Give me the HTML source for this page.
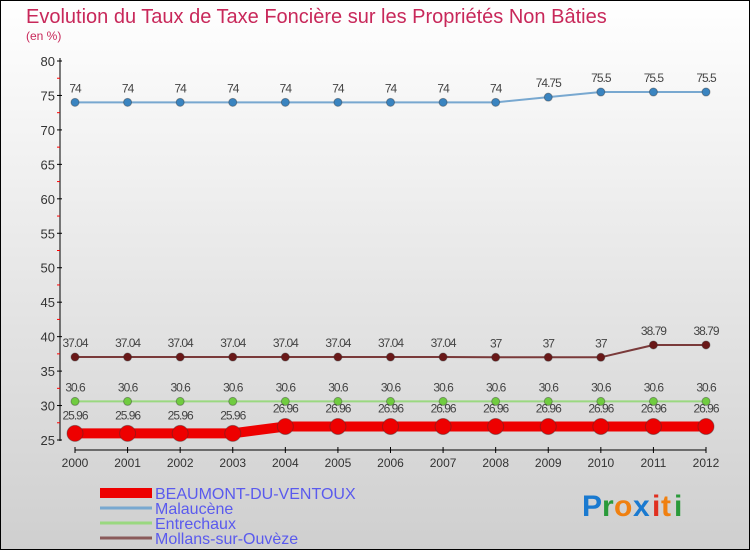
<!DOCTYPE html>
<html><head><meta charset="utf-8"><style>
html,body{margin:0;padding:0}
body{width:750px;height:550px;overflow:hidden;font-family:"Liberation Sans",sans-serif}
svg text{font-family:"Liberation Sans",sans-serif}
</style></head><body>
<svg id="chart" width="750" height="550" xmlns="http://www.w3.org/2000/svg">
<defs>
<linearGradient id="bg" x1="0" y1="0" x2="0" y2="1"><stop offset="0" stop-color="#ffffff"/><stop offset="1" stop-color="#cfcfcf"/></linearGradient>
</defs>
<rect x="0.5" y="0.5" width="749" height="549" fill="url(#bg)" stroke="#000"/>
<text x="26" y="23" font-size="20" fill="#c8285a">Evolution du Taux de Taxe Foncière sur les Propriétés Non Bâties</text>
<text x="26" y="40" font-size="12" fill="#c8285a">(en %)</text>
<g id="axes"></g>
<g id="series"></g>
<g id="legend"></g>
<g font-size="30" font-weight="bold">
<text x="582" y="516" fill="#1a7ad0">P</text><text x="602" y="516" fill="#2a9a3a">r</text><text x="614" y="516" fill="#f08010">o</text><text x="633" y="516" fill="#1a7ad0">x</text><text x="652" y="516" fill="#e03020">i</text><text x="661" y="516" fill="#f08010">t</text><text x="674" y="516" fill="#2a9a3a">i</text>
</g>
</svg>
<script>
const years=[2000,2001,2002,2003,2004,2005,2006,2007,2008,2009,2010,2011,2012];
const yTicks=[25,30,35,40,45,50,55,60,65,70,75,80];
const beaumont=[25.96,25.96,25.96,25.96,26.96,26.96,26.96,26.96,26.96,26.96,26.96,26.96,26.96];
const malaucene=[74,74,74,74,74,74,74,74,74,74.75,75.5,75.5,75.5];
const entrechaux=[30.6,30.6,30.6,30.6,30.6,30.6,30.6,30.6,30.6,30.6,30.6,30.6,30.6];
const mollans=[37.04,37.04,37.04,37.04,37.04,37.04,37.04,37.04,37,37,37,38.79,38.79];
const seriesNames=["BEAUMONT-DU-VENTOUX","Malaucène","Entrechaux","Mollans-sur-Ouvèze"];
const NS="http://www.w3.org/2000/svg";
const xs=i=>75+i*(706-75)/(years.length-1);
const ys=v=>440-(v-25)*(440-61)/55;
function mk(tag,attrs,parent){const e=document.createElementNS(NS,tag);for(const k in attrs)e.setAttribute(k,attrs[k]);parent.appendChild(e);return e;}
const axes=document.getElementById('axes');
let yl=mk('line',{x1:60,y1:58,x2:60,y2:441,stroke:'#000'},axes);


yTicks.forEach(t=>{
 mk('line',{x1:57,y1:ys(t),x2:62,y2:ys(t),stroke:'#000'},axes);
 if(t<80) mk('line',{x1:57,y1:ys(t+2.5),x2:60,y2:ys(t+2.5),stroke:'#f00'},axes);
 const tx=mk('text',{x:55,y:ys(t)+5,'text-anchor':'end','font-size':13,fill:'#333'},axes);
 tx.textContent=t;
 
 
});
let xl=mk('line',{x1:75,y1:450,x2:706,y2:450,stroke:'#000'},axes);


years.forEach((y,i)=>{
 mk('line',{x1:xs(i),y1:447,x2:xs(i),y2:453,stroke:'#000'},axes);
 const tx=mk('text',{x:xs(i),y:467,'text-anchor':'middle','font-size':12,fill:'#333'},axes);
 tx.textContent=y;
 
 
});
const S=document.getElementById('series');
const defs=[
 {d:malaucene,c:'#78a8d0',p:'#3a84c0',w:2,r:4,n:'malaucene'},
 {d:mollans,c:'#7a3a3a',p:'#6a1818',w:2,r:4,n:'mollans'},
 {d:entrechaux,c:'#9ad880',p:'#70cc40',w:2,r:4,n:'entrechaux'},
 {d:beaumont,c:'#ee0000',p:'#ee0000',w:10,r:8,n:'beaumont'}
];
defs.forEach(s=>{
 const g=mk('g',{},S);
 
 
 const pl=mk('polyline',{points:s.d.map((v,i)=>xs(i)+','+ys(v)).join(' '),fill:'none',stroke:s.c,'stroke-width':s.w},g);
 
 
 s.d.forEach((v,i)=>{
  const c=mk('circle',{cx:xs(i),cy:ys(v),r:s.r,fill:s.p,stroke:'#333','stroke-opacity':0.4},g);
  
  
  const t=mk('text',{x:xs(i),y:ys(v)-(s.r+6),'text-anchor':'middle','font-size':12,fill:'#444','letter-spacing':'-1'},g);
  t.textContent=String(v);
  
  
 });
});
const L=document.getElementById('legend');
const lc=[['#ee0000',10],['#78a8d0',3],['#9ad880',3],['#8a5a5a',3]];
seriesNames.forEach((n,i)=>{
 const y=493+i*15;
 const g=mk('g',{},L);
 
 
 mk('line',{x1:100,y1:y,x2:152,y2:y,stroke:lc[i][0],'stroke-width':lc[i][1]},g);
 const t=mk('text',{x:155,y:y+6,'font-size':16,fill:'#5a5aee'},g);
 t.textContent=n;
});
</script>
</body></html>
